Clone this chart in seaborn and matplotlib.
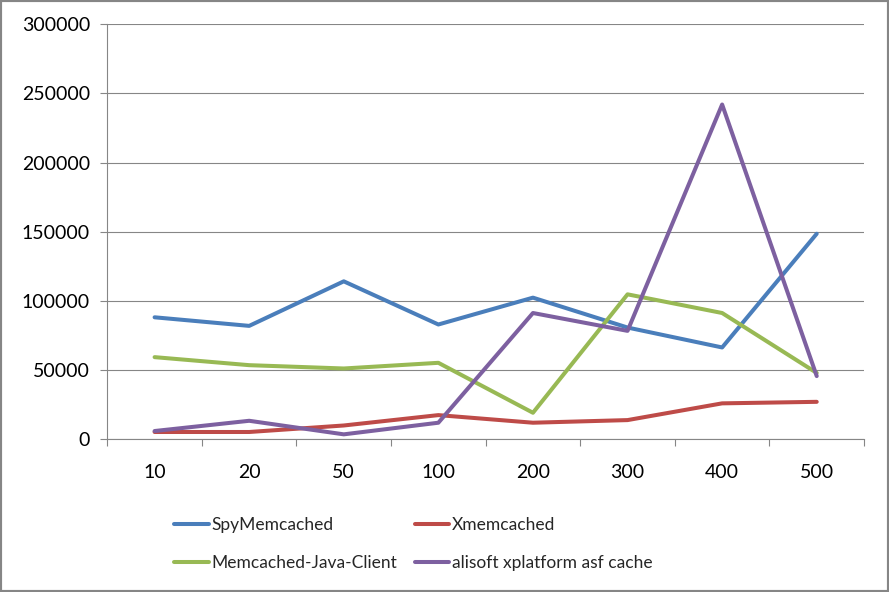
import matplotlib
matplotlib.use("Agg")
import matplotlib.pyplot as plt
import pandas as pd
import seaborn as sns
from matplotlib.patches import Rectangle

# thread counts / request sizes on the x axis
categories = ["10", "20", "50", "100", "200", "300", "400", "500"]

spymemcached = [88200, 82000, 114200, 83000, 102400, 80800, 66400, 148600]
xmemcached = [5300, 5300, 10000, 17500, 12000, 13900, 26000, 27100]
java_client = [59400, 53600, 51200, 55300, 19200, 104800, 91300, 48000]
alisoft = [6000, 13400, 3600, 12000, 91300, 78400, 242000, 45700]

series = {
    "SpyMemcached": spymemcached,
    "Xmemcached": xmemcached,
    "Memcached-Java-Client": java_client,
    "alisoft xplatform asf cache": alisoft,
}
colors = {
    "SpyMemcached": "#4A7EBB",
    "Xmemcached": "#BE4B48",
    "Memcached-Java-Client": "#98B954",
    "alisoft xplatform asf cache": "#7D60A0",
}

rows = []
for name, vals in series.items():
    for cat, v in zip(categories, vals):
        rows.append({"x": cat, "value": v, "client": name})
df = pd.DataFrame(rows)

sns.set_style("white")
plt.rcParams["font.family"] = ["Lato", "DejaVu Sans"]

fig = plt.figure(figsize=(8.89, 5.92), dpi=100)
ax = fig.add_axes([0.1207, 0.2579, 0.9719 - 0.1207, 0.959 - 0.2579])

sns.lineplot(data=df, x="x", y="value", hue="client", palette=colors,
             linewidth=2.9, ax=ax, legend=False, sort=False)

grey = "#868686"
ax.set_ylim(0, 300000)
ax.set_yticks(range(0, 300001, 50000))
ax.set_xlim(-0.5, len(categories) - 0.5)
ax.grid(axis="y", color=grey, linewidth=0.8)
ax.set_axisbelow(True)
ax.set_xlabel("")
ax.set_ylabel("")

for s in ["top", "right"]:
    ax.spines[s].set_visible(False)
for s in ["left", "bottom"]:
    ax.spines[s].set_color(grey)
    ax.spines[s].set_linewidth(0.8)

ax.set_xticks(range(len(categories)))
ax.set_xticklabels(categories)
ax.set_xticks([i - 0.5 for i in range(len(categories) + 1)], minor=True)
ax.tick_params(axis="x", which="major", length=0, pad=18, labelsize=14, labelcolor="black")
ax.tick_params(axis="x", which="minor", length=5, color=grey, width=0.8, bottom=True)
ax.tick_params(axis="y", length=5, color=grey, width=0.8, left=True, pad=7.5,
               labelsize=14, labelcolor="black")

# legend, rows: Spy/Xmem, Java/alisoft (matplotlib fills column-wise)
order = ["SpyMemcached", "Memcached-Java-Client", "Xmemcached", "alisoft xplatform asf cache"]
handles = [plt.Line2D([], [], color=colors[n], linewidth=2.9) for n in order]
fig.legend(handles, order, ncol=2, loc="center", bbox_to_anchor=(0.465, 0.081),
           frameon=False, fontsize=12.5, handlelength=2.0, handletextpad=0.15,
           columnspacing=1.0, labelspacing=1.3)

fig.patches.append(Rectangle((0, 0), 1, 1, transform=fig.transFigure, fill=False,
                             edgecolor=grey, linewidth=3))

fig.savefig("out.png", dpi=100)
